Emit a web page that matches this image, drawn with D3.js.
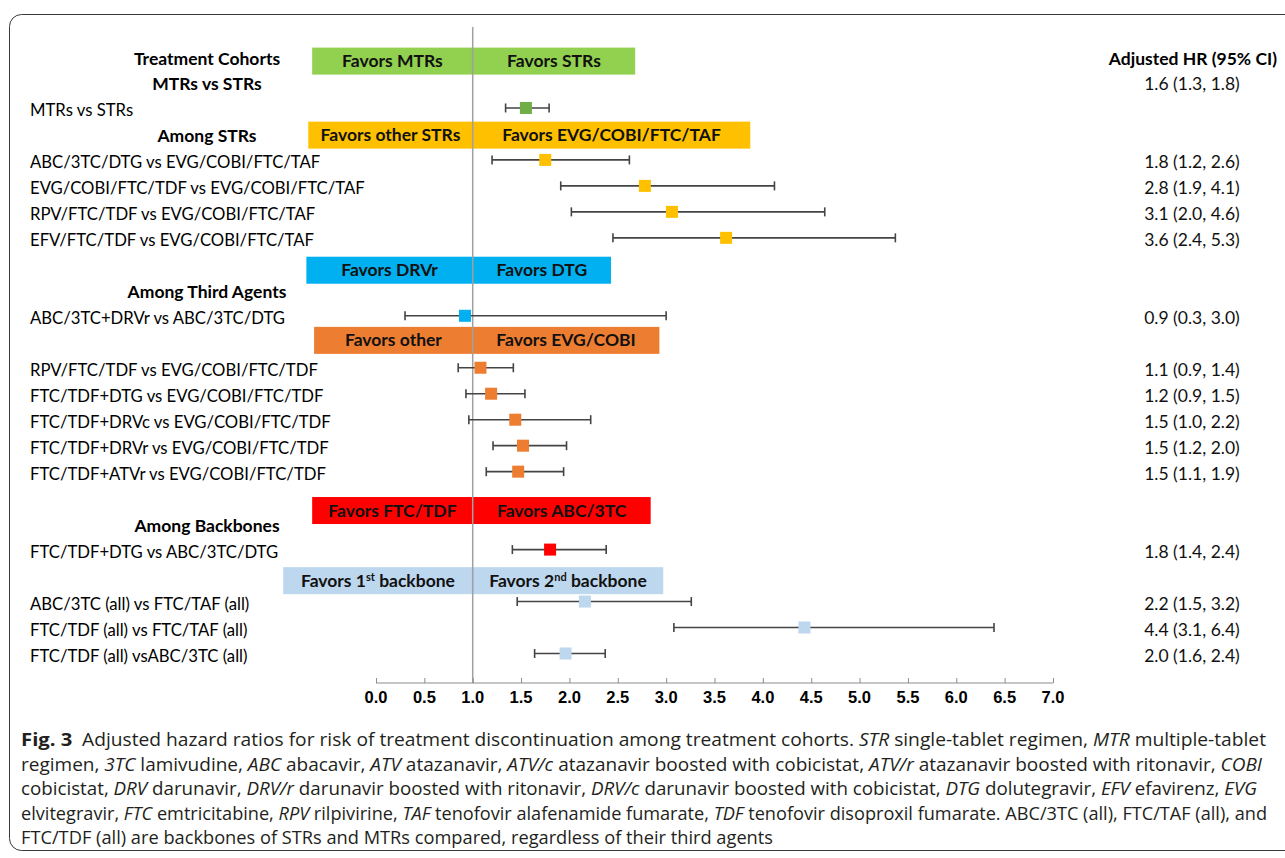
<!DOCTYPE html>
<html>
<head>
<meta charset="utf-8">
<script src="https://cdn.jsdelivr.net/npm/d3@7"></script>
<style>
  html, body { margin: 0; padding: 0; background: #fff; }
  svg { display: block; }
</style>
</head>
<body>
<svg id="chart" width="1285" height="858"></svg>
<script>
// ---------------- data ----------------
const comparisons = [
  "MTRs vs STRs",
  "ABC/3TC/DTG vs EVG/COBI/FTC/TAF",
  "EVG/COBI/FTC/TDF vs EVG/COBI/FTC/TAF",
  "RPV/FTC/TDF vs EVG/COBI/FTC/TAF",
  "EFV/FTC/TDF vs EVG/COBI/FTC/TAF",
  "ABC/3TC+DRVr vs ABC/3TC/DTG",
  "RPV/FTC/TDF vs EVG/COBI/FTC/TDF",
  "FTC/TDF+DTG vs EVG/COBI/FTC/TDF",
  "FTC/TDF+DRVc vs EVG/COBI/FTC/TDF",
  "FTC/TDF+DRVr vs EVG/COBI/FTC/TDF",
  "FTC/TDF+ATVr vs EVG/COBI/FTC/TDF",
  "FTC/TDF+DTG vs ABC/3TC/DTG",
  "ABC/3TC (all) vs FTC/TAF (all)",
  "FTC/TDF (all) vs FTC/TAF (all)",
  "FTC/TDF (all) vsABC/3TC (all)"
];
const groups = ["mtr","str","str","str","str","third","evg","evg","evg","evg","evg","bb","bball","bball","bball"];
const hr   = [1.55, 1.75, 2.78, 3.06, 3.62, 0.92, 1.08, 1.19, 1.44, 1.52, 1.47, 1.80, 2.16, 4.43, 1.96];
const ciLo = [1.34, 1.20, 1.91, 2.02, 2.45, 0.30, 0.85, 0.93, 0.96, 1.21, 1.14, 1.41, 1.46, 3.08, 1.64];
const ciHi = [1.79, 2.62, 4.12, 4.64, 5.37, 3.00, 1.42, 1.54, 2.22, 1.97, 1.94, 2.38, 3.26, 6.39, 2.37];
const hrText = [
  "1.6 (1.3, 1.8)", "1.8 (1.2, 2.6)", "2.8 (1.9, 4.1)", "3.1 (2.0, 4.6)", "3.6 (2.4, 5.3)",
  "0.9 (0.3, 3.0)", "1.1 (0.9, 1.4)", "1.2 (0.9, 1.5)", "1.5 (1.0, 2.2)", "1.5 (1.2, 2.0)",
  "1.5 (1.1, 1.9)", "1.8 (1.4, 2.4)", "2.2 (1.5, 3.2)", "4.4 (3.1, 6.4)", "2.0 (1.6, 2.4)"
];
// row slots (layout order of the table)
const rowSlot   = [2, 4, 5, 6, 7, 10, 12, 13, 14, 15, 16, 19, 21, 22, 23];
const valueSlot = [1, 4, 5, 6, 7, 10, 12, 13, 14, 15, 16, 19, 21, 22, 23];

const headers = ["Treatment Cohorts", "MTRs vs STRs", "Among STRs", "Among Third Agents", "Among Backbones"];
const headerSlot = [0, 1, 3, 9, 18];

const bannerLeft  = ["Favors MTRs", "Favors other STRs", "Favors DRVr", "Favors other", "Favors FTC/TDF", "Favors 1|st| backbone"];
const bannerRight = ["Favors STRs", "Favors EVG/COBI/FTC/TAF", "Favors DTG", "Favors EVG/COBI", "Favors ABC/3TC", "Favors 2|nd| backbone"];
const bannerGroup = ["mtr", "str", "third", "evg", "bb", "bball"];
const bannerSlot  = [0.1, 2.95, 8.15, 10.85, 17.4, 20.1];
const bannerFrom  = [-0.66, -0.70, -0.72, -0.64, -0.66, -0.96];
const bannerTo    = [2.68, 3.87, 2.43, 2.93, 2.84, 2.97];

const xTicks = [0, 0.5, 1, 1.5, 2, 2.5, 3, 3.5, 4, 4.5, 5, 5.5, 6, 6.5, 7];

const markerColor = { mtr: "#70AD47", str: "#FFC000", third: "#00B0F0", evg: "#ED7D31", bb: "#FF0000", bball: "#BDD7EE" };
const bannerColor = { mtr: "#92D050", str: "#FFC000", third: "#00B0F0", evg: "#ED7D31", bb: "#FF0000", bball: "#BDD7EE" };

const captionLines = [
  [["b","Fig. 3"],["n","\u2002Adjusted hazard ratios for risk of treatment discontinuation among treatment cohorts. "],["i","STR"],["n"," single-tablet regimen, "],["i","MTR"],["n"," multiple-tablet"]],
  [["n","regimen, "],["i","3TC"],["n"," lamivudine, "],["i","ABC"],["n"," abacavir, "],["i","ATV"],["n"," atazanavir, "],["i","ATV/c"],["n"," atazanavir boosted with cobicistat, "],["i","ATV/r"],["n"," atazanavir boosted with ritonavir, "],["i","COBI"]],
  [["n","cobicistat, "],["i","DRV"],["n"," darunavir, "],["i","DRV/r"],["n"," darunavir boosted with ritonavir, "],["i","DRV/c"],["n"," darunavir boosted with cobicistat, "],["i","DTG"],["n"," dolutegravir, "],["i","EFV"],["n"," efavirenz, "],["i","EVG"]],
  [["n","elvitegravir, "],["i","FTC"],["n"," emtricitabine, "],["i","RPV"],["n"," rilpivirine, "],["i","TAF"],["n"," tenofovir alafenamide fumarate, "],["i","TDF"],["n"," tenofovir disoproxil fumarate. ABC/3TC (all), FTC/TAF (all), and"]],
  [["n","FTC/TDF (all) are backbones of STRs and MTRs compared, regardless of their third agents"]]
];
const captionWidths = [1245, 1241, 1236, 1246, 752];

// ---------------- drawing ----------------
const svg = d3.select("#chart");
const FONT = "Lato, 'Open Sans', sans-serif";

const x = d3.scaleLinear().domain([0, 7]).range([376, 1053]);
const y = d3.scaleLinear().domain([0, 23]).range([58.5, 656]);

// frame
svg.append("rect")
  .attr("x", 9.5).attr("y", 14.5)
  .attr("width", 1320).attr("height", 836)
  .attr("rx", 12).attr("ry", 12)
  .attr("fill", "none").attr("stroke", "#3a3a3a").attr("stroke-width", 1);

// banners
const bIdx = d3.range(bannerLeft.length);
const bH = 27;
const bg = svg.append("g");
bg.selectAll("rect.ban").data(bIdx).join("rect")
  .attr("class", "ban")
  .attr("x", i => x(bannerFrom[i]))
  .attr("y", i => y(bannerSlot[i]) - bH / 2)
  .attr("width", i => x(bannerTo[i]) - x(bannerFrom[i]))
  .attr("height", bH)
  .attr("fill", i => bannerColor[bannerGroup[i]]);

function richText(sel, str) {
  const parts = str.split("|");
  parts.forEach((p, k) => {
    if (k % 2 === 1) {
      sel.append("tspan").attr("font-size", 11).attr("dy", -6).text(p);
    } else {
      const t = sel.append("tspan").text(p);
      if (k > 0) t.attr("dy", 6);
    }
  });
}
bIdx.forEach(i => {
  const cy = y(bannerSlot[i]) + 6;
  const l = bg.append("text")
    .attr("x", (x(bannerFrom[i]) + x(1)) / 2).attr("y", cy)
    .attr("text-anchor", "middle").attr("font-family", FONT)
    .attr("font-weight", "bold").attr("font-size", 17.5).attr("fill", "#111");
  richText(l, bannerLeft[i]);
  const r = bg.append("text")
    .attr("x", (x(bannerTo[i]) + x(1)) / 2).attr("y", cy)
    .attr("text-anchor", "middle").attr("font-family", FONT)
    .attr("font-weight", "bold").attr("font-size", 17.5).attr("fill", "#111");
  richText(r, bannerRight[i]);
});

// reference line at HR = 1
svg.append("line")
  .attr("x1", x(1)).attr("x2", x(1))
  .attr("y1", 27).attr("y2", 683)
  .attr("stroke", "#a0a0a0").attr("stroke-width", 1.5);

// x axis
const axisY = 683;
const axis = d3.axisTop(x).tickValues(xTicks).tickSize(5).tickFormat("");
const ag = svg.append("g").attr("transform", `translate(0,${axisY})`).call(axis);
ag.select(".domain").attr("stroke", "#8c8c8c").attr("d", `M${x(0)},0H${x(7)}`);
ag.selectAll(".tick line").attr("stroke", "#8c8c8c");
svg.append("g").selectAll("text").data(xTicks).join("text")
  .attr("x", d => x(d)).attr("y", 703)
  .attr("text-anchor", "middle")
  .attr("font-family", "'Liberation Sans', Arial, sans-serif")
  .attr("font-weight", "bold").attr("font-size", 16.5).attr("fill", "#000")
  .text(d => d.toFixed(1));

// section headers
svg.append("g").selectAll("text").data(headers).join("text")
  .attr("x", 207).attr("y", (d, i) => y(headerSlot[i]) + 6)
  .attr("text-anchor", "middle").attr("font-family", FONT)
  .attr("font-weight", "bold").attr("font-size", 17.5).attr("fill", "#000")
  .text(d => d);

// row labels
const idx = d3.range(comparisons.length);
svg.append("g").selectAll("text").data(idx).join("text")
  .attr("x", 30).attr("y", i => y(rowSlot[i]) + 6)
  .attr("font-family", FONT).attr("font-size", 16.7).attr("fill", "#000")
  .text(i => comparisons[i]);

// CI lines
const cg = svg.append("g");
const my = i => y(rowSlot[i]) - 2.5;
cg.selectAll("line.ci").data(idx).join("line")
  .attr("x1", i => x(ciLo[i])).attr("x2", i => x(ciHi[i]))
  .attr("y1", my).attr("y2", my)
  .attr("stroke", "#444").attr("stroke-width", 1.6);
cg.selectAll("line.capl").data(idx).join("line")
  .attr("x1", i => x(ciLo[i])).attr("x2", i => x(ciLo[i]))
  .attr("y1", i => my(i) - 4.5).attr("y2", i => my(i) + 4.5)
  .attr("stroke", "#444").attr("stroke-width", 1.6);
cg.selectAll("line.caph").data(idx).join("line")
  .attr("x1", i => x(ciHi[i])).attr("x2", i => x(ciHi[i]))
  .attr("y1", i => my(i) - 4.5).attr("y2", i => my(i) + 4.5)
  .attr("stroke", "#444").attr("stroke-width", 1.6);

// point estimates
const ms = 12;
cg.selectAll("rect.pt").data(idx).join("rect")
  .attr("x", i => x(hr[i]) - ms / 2).attr("y", i => my(i) - ms / 2)
  .attr("width", ms).attr("height", ms)
  .attr("fill", i => markerColor[groups[i]]);

// right column
svg.append("text")
  .attr("x", 1277).attr("y", y(0) + 6).attr("text-anchor", "end")
  .attr("font-family", FONT).attr("font-weight", "bold").attr("font-size", 17.5).attr("fill", "#000")
  .text("Adjusted HR (95% CI)");
svg.append("g").selectAll("text").data(idx).join("text")
  .attr("x", 1192).attr("y", i => y(valueSlot[i]) + 6)
  .attr("text-anchor", "middle").attr("font-family", FONT)
  .attr("font-size", 17.5).attr("fill", "#111")
  .text(i => hrText[i]);

// caption
const capG = svg.append("g");
const capBase = [746, 770.5, 795, 819.5, 844];
captionLines.forEach((line, li) => {
  const t = capG.append("text")
    .attr("x", 21).attr("y", capBase[li])
    .attr("font-family", "'Open Sans', 'Noto Sans', sans-serif")
    .attr("font-size", 17.5).attr("fill", "#231f20")
    .attr("textLength", captionWidths[li]).attr("lengthAdjust", "spacingAndGlyphs");
  line.forEach(([sty, s]) => {
    const ts = t.append("tspan").text(s);
    if (sty === "b") ts.attr("font-weight", "bold").attr("font-size", 18.5);
    if (sty === "i") ts.attr("font-style", "italic");
  });
});
</script>
</body>
</html>
